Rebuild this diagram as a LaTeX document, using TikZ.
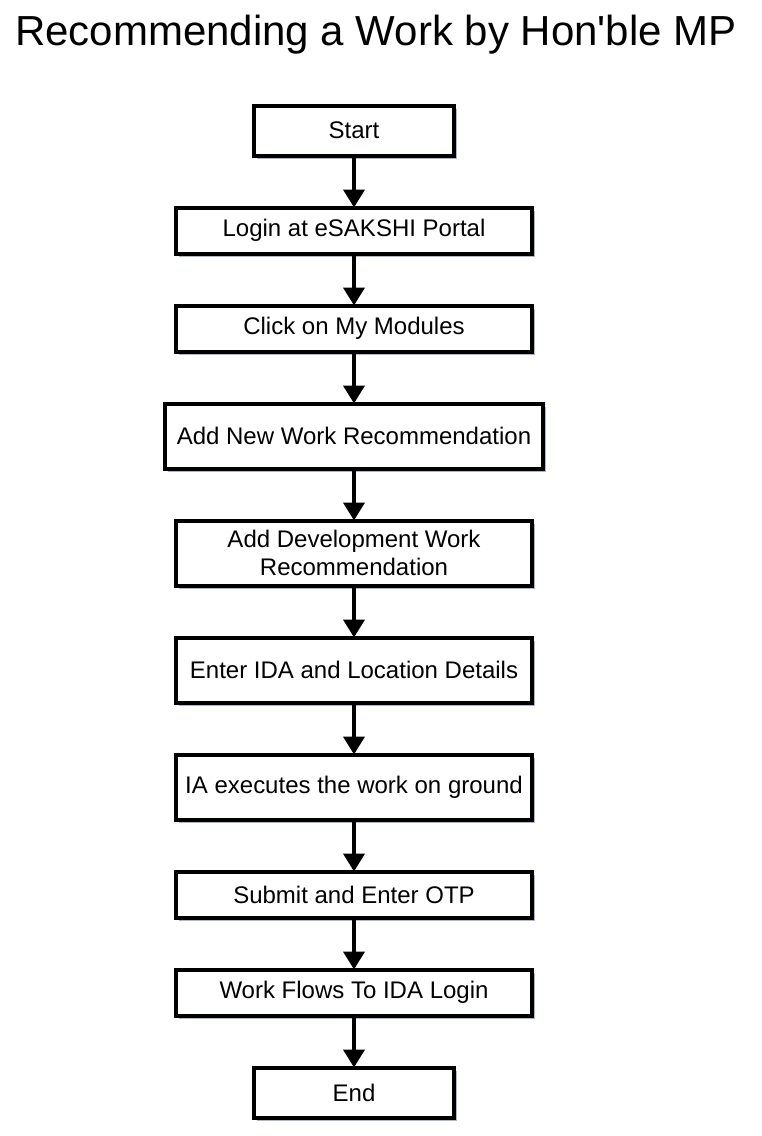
\documentclass[tikz,border=0pt]{standalone}
\usepackage{fontspec}
\setmainfont{Liberation Sans}
\usetikzlibrary{positioning,shapes,shadows,arrows.meta}
\definecolor{shadowblue}{RGB}{140,150,190}
\tikzstyle{stepbox} = [rectangle, minimum width=356pt, minimum height=46pt, text centered, align=center, draw=black, line width=4pt, outer sep=0pt, fill=white, font=\fontsize{24}{28}\selectfont, drop shadow={shadow xshift=3pt, shadow yshift=-3.5pt, fill=shadowblue, opacity=0.7}]
\tikzstyle{startstop} = [stepbox, minimum width=200pt, minimum height=50pt]
\tikzstyle{tallbox} = [stepbox, minimum height=65pt]
\tikzstyle{arrow} = [line width=4pt,-{Triangle[length=18pt,width=21pt]}]

\begin{document}
\begin{tikzpicture}[node distance=52pt]
                        \useasboundingbox (0,0) rectangle (761pt,-1136pt);
                        \node (title) at (376pt,-35pt) {\fontsize{42}{50}\selectfont Recommending a Work by Hon\textquotesingle ble MP};
                        \node (start) [startstop] at (354pt,-130.5pt) {Start};
                        \node (login) [stepbox, below=of start] {Login at eSAKSHI Portal};
                        \draw [arrow] (start) -- (login);
                        \node (modules) [stepbox, below=of login] {Click on My Modules};
                        \draw [arrow] (login) -- (modules);
                        \node (newwork) [tallbox, minimum width=378pt, below=of modules] {Add New Work Recommendation};
                        \draw [arrow] (modules) -- (newwork);
                        \node (devwork) [tallbox, below=of newwork] {Add Development Work\\Recommendation};
                        \draw [arrow] (newwork) -- (devwork);
                        \node (location) [tallbox, below=of devwork] {Enter IDA and Location Details};
                        \draw [arrow] (devwork) -- (location);
                        \node (execute) [tallbox, below=of location] {IA executes the work on ground};
                        \draw [arrow] (location) -- (execute);
                        \node (otp) [stepbox, below=of execute] {Submit and Enter OTP};
                        \draw [arrow] (execute) -- (otp);
                        \node (idalogin) [stepbox, below=of otp] {Work Flows To IDA Login};
                        \draw [arrow] (otp) -- (idalogin);
                        \node (end) [startstop, below=of idalogin] {End};
                        \draw [arrow] (idalogin) -- (end);
                    \end{tikzpicture}
\end{document}
